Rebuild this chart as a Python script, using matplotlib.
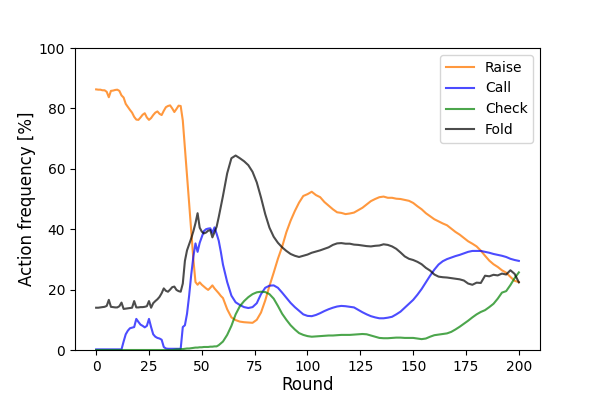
import matplotlib
matplotlib.use('Agg')
import matplotlib.pyplot as plt

# rounds: every round up to 59, then every second round
rounds = list(range(0, 60)) + list(range(60, 201, 2))

raise_freq = [
	86.3, 86.2, 86.2, 86.0, 86.0, 85.5, 83.7, 85.8, 85.9, 86.1,
	86.2, 85.8, 84.3, 83.6, 81.5, 80.5, 79.5, 78.6, 77.2, 76.3,
	76.2, 77.0, 77.9, 78.4, 77.0, 76.2, 76.8, 77.8, 78.6, 79.0,
	78.2, 77.8, 79.2, 80.4, 80.8, 81.0, 80.0, 78.8, 79.8, 80.9,
	80.8, 76.0, 67.0, 58.0, 48.6, 39.5, 30.0, 22.5, 21.6, 22.4,
	21.6, 21.0, 20.4, 19.9, 20.6, 21.4, 20.4, 19.6, 18.8, 17.9,
	17.2, 13.5, 10.8, 9.9, 9.4, 9.2, 9.1, 9.0, 10.0, 12.4,
	16.4, 21.2, 25.6, 30.2, 34.2, 39.0, 42.8, 46.0, 48.8, 51.0,
	51.6, 52.4, 51.3, 50.6, 49.0, 47.8, 46.6, 45.6, 45.4, 45.0,
	45.2, 45.5, 46.3, 47.1, 48.2, 49.3, 50.0, 50.6, 50.8, 50.4,
	50.4, 50.1, 50.0, 49.7, 49.4, 48.7, 47.6, 46.6, 45.3, 44.3,
	43.3, 42.6, 41.9, 41.3, 40.2, 39.1, 38.2, 37.1, 36.0, 35.2,
	34.3, 32.9, 31.2, 29.6, 28.4, 27.5, 26.4, 25.6, 24.2, 22.9,
	22.5]

call_freq = [
	0.2, 0.2, 0.2, 0.2, 0.2, 0.2, 0.2, 0.2, 0.2, 0.2,
	0.2, 0.2, 0.2, 2.8, 5.2, 6.4, 7.2, 7.4, 7.6, 10.3,
	9.3, 8.4, 8.0, 7.5, 8.0, 10.3, 7.6, 5.2, 4.4, 4.0,
	3.8, 3.4, 1.0, 0.5, 0.4, 0.4, 0.4, 0.4, 0.4, 0.4,
	0.4, 7.6, 8.2, 12.0, 18.0, 25.0, 30.9, 35.3, 32.5, 35.5,
	37.5, 39.4, 40.0, 40.2, 40.3, 38.8, 40.6, 38.5, 36.2, 32.5,
	28.3, 22.5, 18.0, 15.8, 14.9, 14.2, 13.9, 14.2, 15.5, 18.5,
	20.6, 21.3, 21.4, 20.6, 19.0, 17.3, 15.6, 14.2, 13.0, 11.8,
	11.3, 11.2, 11.6, 12.2, 12.9, 13.5, 14.0, 14.4, 14.6, 14.5,
	14.3, 14.1, 13.3, 12.5, 11.8, 11.2, 10.8, 10.5, 10.5, 10.7,
	11.0, 11.8, 12.7, 14.0, 15.3, 16.6, 18.3, 20.2, 22.4, 24.6,
	26.6, 28.3, 29.4, 30.1, 30.6, 31.1, 31.5, 32.0, 32.5, 32.8,
	32.8, 32.8, 32.5, 32.2, 31.8, 31.5, 31.2, 30.8, 30.2, 29.8,
	29.5]

check_freq = [
	0.0, 0.0, 0.0, 0.0, 0.0, 0.0, 0.0, 0.0, 0.0, 0.0,
	0.0, 0.0, 0.0, 0.0, 0.0, 0.0, 0.0, 0.0, 0.0, 0.0,
	0.0, 0.0, 0.0, 0.0, 0.0, 0.0, 0.0, 0.0, 0.0, 0.0,
	0.0, 0.0, 0.0, 0.0, 0.0, 0.0, 0.0, 0.1, 0.2, 0.2,
	0.3, 0.3, 0.4, 0.5, 0.5, 0.6, 0.7, 0.8, 0.8, 0.9,
	0.9, 1.0, 1.0, 1.0, 1.1, 1.1, 1.2, 1.2, 1.6, 2.2,
	2.8, 5.0, 8.0, 11.8, 14.5, 16.2, 17.5, 18.5, 19.1, 19.3,
	19.2, 18.5, 17.0, 14.6, 12.0, 10.0, 8.2, 6.8, 5.6, 5.0,
	4.6, 4.4, 4.5, 4.6, 4.7, 4.8, 4.8, 4.9, 5.0, 5.0,
	5.0, 5.1, 5.2, 5.3, 5.2, 4.8, 4.4, 4.0, 3.9, 3.9,
	4.0, 4.1, 4.1, 4.0, 4.0, 4.0, 3.8, 3.6, 3.8, 4.4,
	4.9, 5.1, 5.3, 5.5, 6.0, 6.8, 7.7, 8.7, 9.7, 10.8,
	11.8, 12.6, 13.2, 14.2, 15.3, 17.0, 19.0, 19.5, 21.5, 23.8,
	25.7]

fold_freq = [
	14.0, 14.0, 14.1, 14.2, 14.3, 14.6, 16.6, 14.3, 14.2, 14.1,
	14.1, 14.5, 15.7, 13.6, 13.7, 13.8, 13.9, 14.0, 16.2, 14.1,
	14.1, 14.2, 14.2, 14.3, 14.5, 16.2, 14.0, 15.5, 16.2, 16.8,
	17.6, 18.8, 20.4, 19.6, 19.3, 20.0, 20.8, 21.0, 19.9, 19.5,
	19.3, 22.0, 29.5, 33.0, 35.0, 37.0, 39.3, 42.0, 45.3, 40.5,
	39.2, 38.6, 38.9, 39.5, 39.7, 37.3, 39.0, 40.8, 44.0, 47.5,
	51.0, 58.5, 63.5, 64.4, 63.5, 62.5, 61.2, 59.0, 55.5, 50.5,
	45.0, 40.5, 37.5, 35.5, 34.0, 32.8, 31.8, 31.2, 30.8, 31.2,
	31.6, 32.2, 32.6, 33.0, 33.5, 34.0, 34.8, 35.3, 35.4, 35.2,
	35.2, 34.9, 34.8, 34.6, 34.4, 34.3, 34.5, 34.6, 35.0, 34.8,
	34.3, 33.5, 32.3, 31.0, 30.2, 29.8, 29.2, 28.4, 27.2, 26.3,
	25.0, 24.3, 24.1, 24.0, 23.8, 23.6, 23.4, 23.0, 22.0, 21.6,
	22.3, 22.2, 24.6, 24.4, 24.9, 24.7, 25.3, 25.0, 26.4, 25.2,
	22.4]

fig = plt.figure(figsize = (6, 4), dpi = 100)
ax = plt.gca()
plt.subplots_adjust(left = 0.125, right = 0.9, bottom = 0.125, top = 0.88)

ax.plot(rounds, raise_freq, color = 'tab:orange', alpha = 0.8, label = 'Raise')
ax.plot(rounds, call_freq, color = 'blue', alpha = 0.7, label = 'Call')
ax.plot(rounds, check_freq, color = 'green', alpha = 0.7, label = 'Check')
ax.plot(rounds, fold_freq, color = 'black', alpha = 0.7, label = 'Fold')

ax.set_ylim([0, 100])
ax.set_xlabel('Round', fontsize = 12, labelpad = 2)
ax.set_ylabel('Action frequency [%]', fontsize = 12, labelpad = 2)
ax.legend(loc = 'upper right')

plt.savefig('out.png', dpi = 100)
plt.close()
